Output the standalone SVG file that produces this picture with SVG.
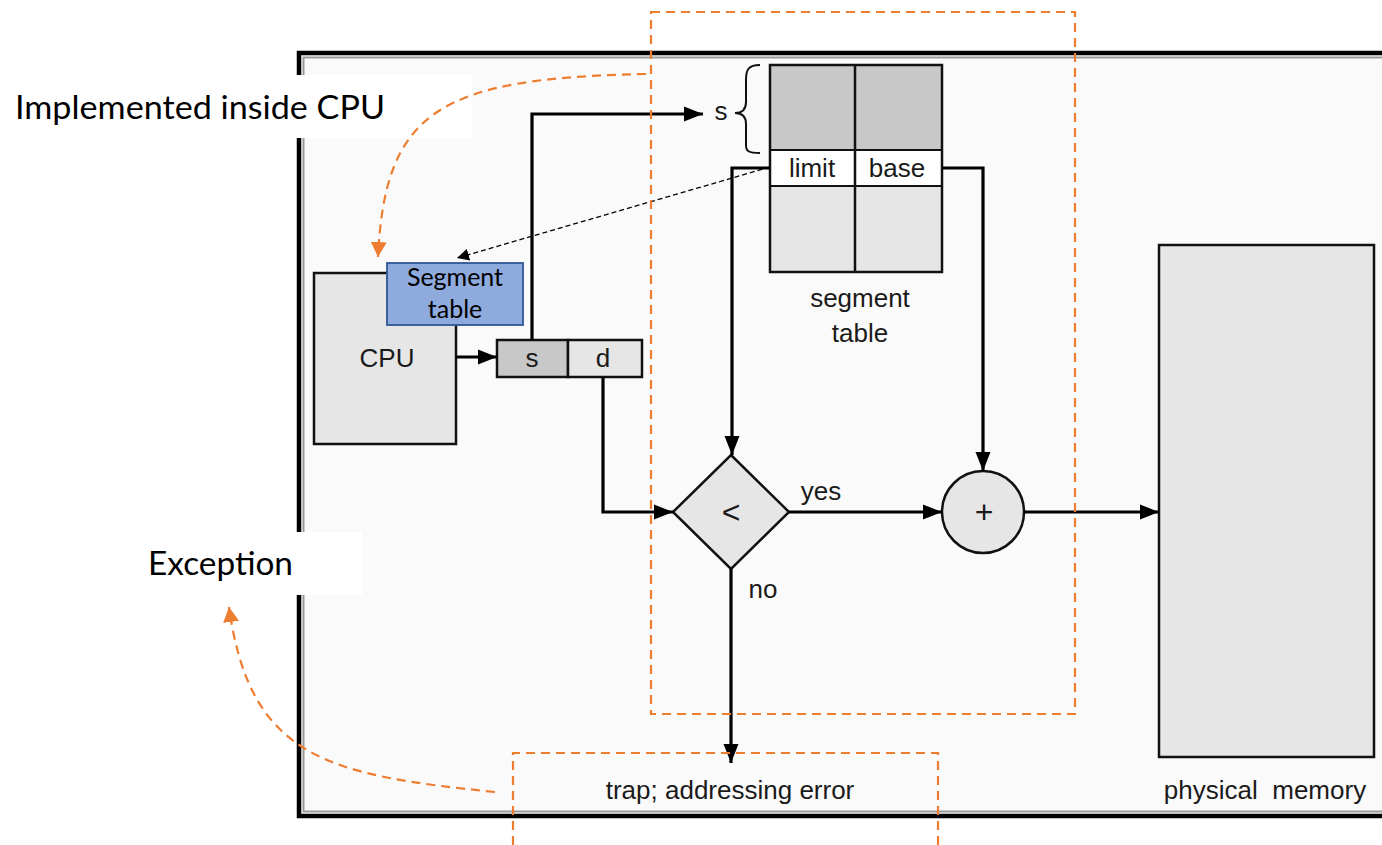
<svg xmlns="http://www.w3.org/2000/svg" width="1382" height="845" viewBox="0 0 1382 845">
  <style>
    .lbl { font-family: "Liberation Sans", Arial, sans-serif; font-size: 26px; fill: #1a1a1a; text-anchor: middle; }
    .sym { font-family: "Liberation Sans", Arial, sans-serif; font-size: 32px; fill: #1a1a1a; text-anchor: middle; }
    .note { font-family: Lato, "Open Sans", sans-serif; font-size: 33px; fill: #000; }
    .blue { font-family: Lato, "Open Sans", sans-serif; font-size: 25px; fill: #000; text-anchor: middle; }
    .box { stroke: #111; stroke-width: 2.5; }
    .wire { fill: none; stroke: #000; stroke-width: 3.2; }
    .orange { fill: none; stroke: #ED7D31; stroke-width: 2.2; stroke-dasharray: 9 6; }
  </style>
  <defs>
    <marker id="arr" markerUnits="userSpaceOnUse" markerWidth="22" markerHeight="18" refX="19" refY="9" orient="auto">
      <path d="M0,1.5 L19,9 L0,16.5 z" fill="#000"/>
    </marker>
    <marker id="arrThin" markerUnits="userSpaceOnUse" markerWidth="14" markerHeight="12" refX="12" refY="6" orient="auto">
      <path d="M0,0 L12,6 L0,12 z" fill="#000"/>
    </marker>
    <marker id="arrOrange" markerUnits="userSpaceOnUse" markerWidth="18" markerHeight="18" refX="15" refY="8" orient="auto">
      <path d="M0,0 L15,8 L0,16 z" fill="#ED7D31"/>
    </marker>
  </defs>

  <rect width="1382" height="845" fill="#fff"/>

  <!-- outer frame -->
  <g id="frame">
    <rect x="299" y="53" width="1100" height="763" fill="#fafafa" stroke="#000" stroke-width="4.5"/>
    <rect x="303.5" y="57.5" width="1090" height="754" fill="none" stroke="#9a9a9a" stroke-width="2"/>
  </g>

  <!-- white label backdrops -->
  <rect x="0" y="75" width="472" height="63" fill="#fff"/>
  <rect x="120" y="532" width="242" height="63" fill="#fff"/>

  <g id="label-implemented">
    <text class="note" x="15" y="119" textLength="370" lengthAdjust="spacingAndGlyphs">Implemented inside CPU</text>
  </g>
  <g id="label-exception">
    <text class="note" x="148" y="575" textLength="145" lengthAdjust="spacingAndGlyphs">Exception</text>
  </g>

  <!-- CPU -->
  <g id="cpu">
    <rect class="box" x="314" y="273" width="142" height="171" fill="#e6e6e6"/>
    <text class="lbl" x="387" y="367">CPU</text>
  </g>

  <!-- segment table copy inside CPU -->
  <g id="cpu-segment-table">
    <rect x="387" y="263" width="136" height="62" fill="#8FAADC" stroke="#2F5597" stroke-width="1.8"/>
    <text class="blue" x="455" y="286">Segment</text>
    <text class="blue" x="455" y="318">table</text>
  </g>

  <!-- logical address register -->
  <g id="address">
    <rect class="box" x="497" y="340" width="71" height="37" fill="#c8c8c8"/>
    <rect class="box" x="568" y="340" width="74" height="37" fill="#e6e6e6"/>
    <text class="lbl" x="532" y="367">s</text>
    <text class="lbl" x="603" y="367">d</text>
  </g>

  <!-- segment table -->
  <g id="segment-table">
    <rect x="770" y="65" width="85" height="85" fill="#c8c8c8"/>
    <rect x="855" y="65" width="87" height="85" fill="#c8c8c8"/>
    <rect x="770" y="150" width="172" height="36" fill="#fff"/>
    <rect x="770" y="186" width="85" height="86" fill="#e6e6e6"/>
    <rect x="855" y="186" width="87" height="86" fill="#e6e6e6"/>
    <rect x="770" y="65" width="172" height="207" fill="none" stroke="#111" stroke-width="2.5"/>
    <line x1="855" y1="65" x2="855" y2="272" stroke="#111" stroke-width="2.5"/>
    <line x1="770" y1="150" x2="942" y2="150" stroke="#111" stroke-width="2"/>
    <line x1="770" y1="186" x2="942" y2="186" stroke="#111" stroke-width="2"/>
    <text class="lbl" x="812" y="177">limit</text>
    <text class="lbl" x="897" y="177">base</text>
    <text class="lbl" x="860" y="307">segment</text>
    <text class="lbl" x="860" y="342">table</text>
    <text class="lbl" x="721" y="120">s</text>
    <path d="M760,65 C748,65 746,70 746,80 L746,102 C746,110 742,113 735,113 C742,113 746,116 746,124 L746,145 C746,151 748,153 760,153" fill="none" stroke="#111" stroke-width="2"/>
  </g>

  <!-- comparator -->
  <g id="compare">
    <path class="box" d="M731,455 L789,512 L731,569 L673,512 Z" fill="#e6e6e6"/>
    <text class="sym" x="731" y="523">&lt;</text>
    <text class="lbl" x="821" y="500">yes</text>
    <text class="lbl" x="763" y="598">no</text>
  </g>

  <!-- adder -->
  <g id="adder">
    <circle class="box" cx="983" cy="512" r="41" fill="#e6e6e6"/>
    <text class="sym" x="984" y="523">+</text>
  </g>

  <!-- physical memory -->
  <g id="memory">
    <rect class="box" x="1159" y="245" width="215" height="512" fill="#e6e6e6"/>
    <text class="lbl" x="1265" y="799" xml:space="preserve">physical  memory</text>
  </g>

  <g id="trap">
    <text class="lbl" x="730" y="799">trap; addressing error</text>
  </g>

  <!-- connectors -->
  <g id="connectors">
    <line class="wire" x1="456" y1="357" x2="497" y2="357" marker-end="url(#arr)"/>
    <polyline class="wire" points="532,340 532,114 703,114" marker-end="url(#arr)"/>
    <polyline class="wire" points="770,168 732,168 732,455" marker-end="url(#arr)"/>
    <polyline class="wire" points="942,168 983,168 983,471" marker-end="url(#arr)"/>
    <polyline class="wire" points="603,377 603,512 673,512" marker-end="url(#arr)"/>
    <line class="wire" x1="789" y1="512" x2="942" y2="512" marker-end="url(#arr)"/>
    <line class="wire" x1="1024" y1="512" x2="1159" y2="512" marker-end="url(#arr)"/>
    <line class="wire" x1="731" y1="569" x2="731" y2="763" marker-end="url(#arr)"/>
    <line x1="770" y1="167" x2="457" y2="258" stroke="#000" stroke-width="1.3" stroke-dasharray="5 3" marker-end="url(#arrThin)"/>
  </g>

  <!-- highlighted regions and annotations -->
  <g id="annotations">
    <rect class="orange" x="651" y="12" width="424" height="702"/>
    <path class="orange" d="M513,845 L513,753 L938,753 L938,845"/>
    <path class="orange" d="M646,74 C440,78 385,110 378,257" marker-end="url(#arrOrange)"/>
    <path class="orange" d="M495,792 C330,775 250,760 229,607" marker-end="url(#arrOrange)"/>
  </g>
</svg>
